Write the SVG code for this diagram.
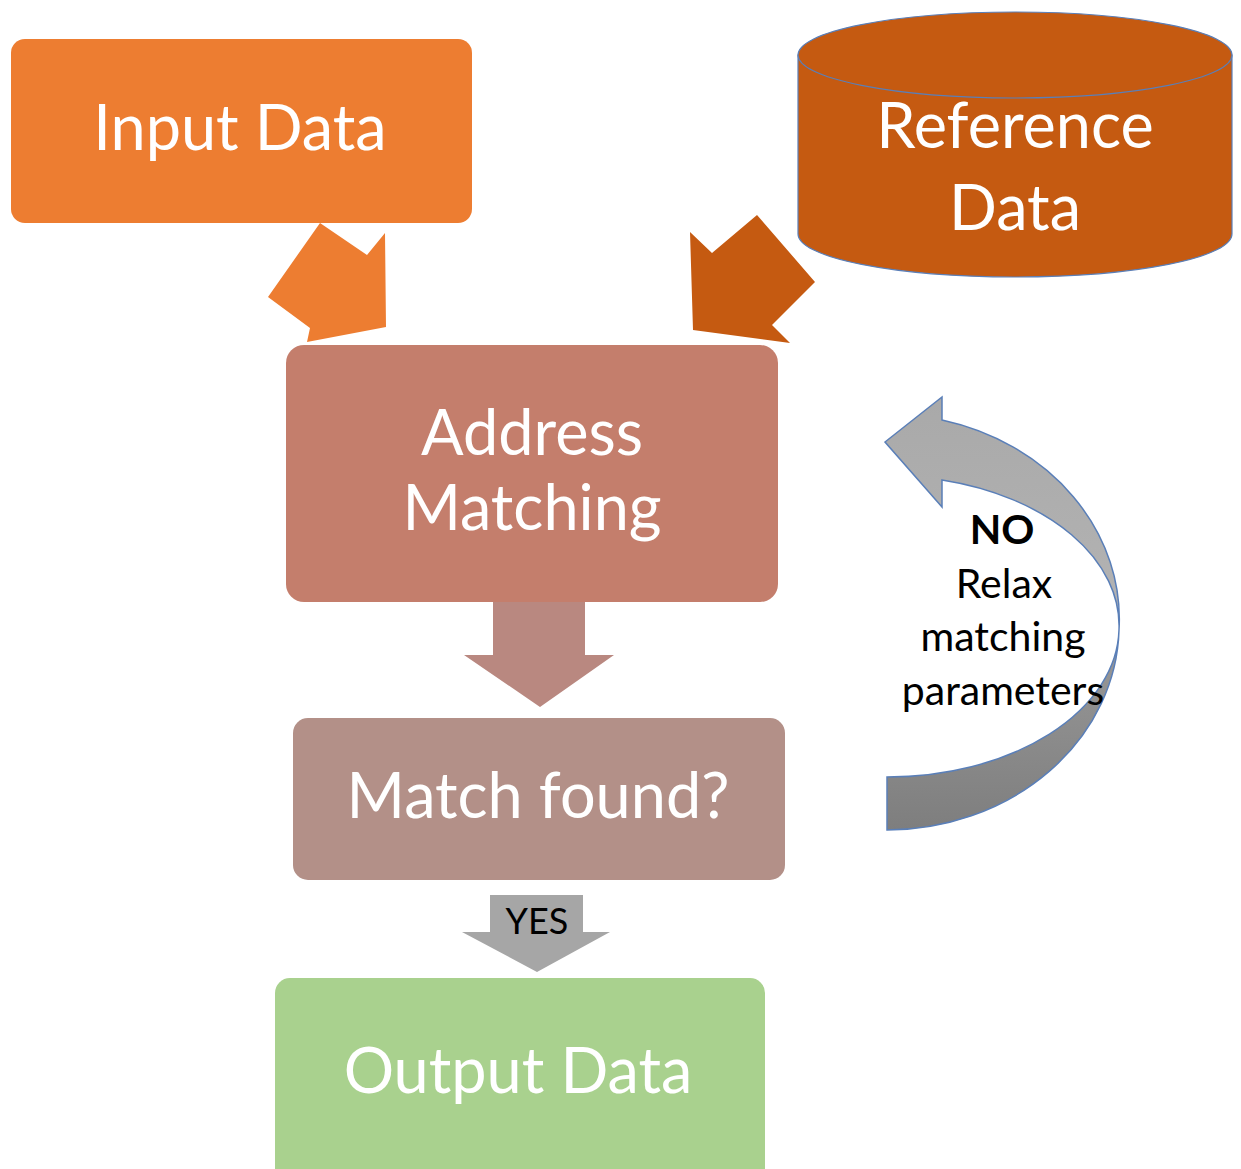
<svg xmlns="http://www.w3.org/2000/svg" width="1241" height="1169" viewBox="0 0 1241 1169">
<style>
.lbl{font-family:Lato,"Open Sans","Liberation Sans",sans-serif;fill:#ffffff;font-size:63px;text-anchor:middle}
.sm{font-family:Lato,"Open Sans","Liberation Sans",sans-serif;fill:#000000;font-size:41px;text-anchor:middle}
.cv{stroke:#5A7FB8;stroke-width:1.5}
</style>
<defs>
<linearGradient id="gUp" x1="0" y1="0" x2="0" y2="1">
<stop offset="0" stop-color="#A9A9A9"/><stop offset="1" stop-color="#B4B4B4"/>
</linearGradient>
<linearGradient id="gLo" x1="0" y1="0" x2="0" y2="1">
<stop offset="0" stop-color="#9A9A9A"/><stop offset="1" stop-color="#7E7E7E"/>
</linearGradient>
</defs>
<rect width="1241" height="1169" fill="#ffffff"/>

<g id="connectors">
<polygon id="arrow-input" points="320,223 367,255 385,233 386,327 307,342 310,328 268,297" fill="#ED7D31"/>
<polygon id="arrow-ref" points="757,215 815,282 772,325 790,343 693,330 690,232 712,253" fill="#C55A11"/>
<polygon id="arrow-match" points="493,602 585,602 585,655 614,655 540,707 464,655 493,655" fill="#B98880"/>
<g id="arrow-yes">
<polygon points="490,895 583,895 583,932 610,932 537,972 462,932 490,932" fill="#A6A6A6"/>
<text x="537" y="934" font-family="Lato,'Open Sans','Liberation Sans',sans-serif" font-size="36" text-anchor="middle" fill="#000000">YES</text>
</g>
<g id="arrow-no">
<path class="cv" fill="url(#gLo)" d="M 1119 630 A 233 205 0 0 1 887 830 L 887 777 A 232 150 0 0 0 1119 630 Z"/>
<path class="cv" fill="url(#gUp)" d="M 942 420 A 233 205 0 0 1 1119 630 A 232 150 0 0 0 942 480 L 942 507 L 885 442 L 942 397 Z"/>
<text class="sm" x="1002" y="544" font-weight="bold">NO</text>
<text class="sm" x="1004" y="598">Relax</text>
<text class="sm" x="1003" y="651">matching</text>
<text class="sm" x="1003" y="705">parameters</text>
</g>
</g>

<g id="input-data">
<rect x="11" y="39" width="461" height="184" rx="14" fill="#ED7D31"/>
<text class="lbl" x="240" y="150" font-size="65">Input Data</text>
</g>

<g id="reference-data">
<path d="M 798 55 L 798 234 A 217 43 0 0 0 1232 234 L 1232 55 Z" fill="#C55A11" stroke="#5A7FB8" stroke-width="1.2"/>
<ellipse cx="1015" cy="55" rx="217" ry="43" fill="#C55A11" stroke="#5A7FB8" stroke-width="1.2"/>
<text class="lbl" x="1015" y="148">Reference</text>
<text class="lbl" x="1015" y="230">Data</text>
</g>

<g id="address-matching">
<rect x="286" y="345" width="492" height="257" rx="18" fill="#C47E6C"/>
<text class="lbl" x="532" y="455">Address</text>
<text class="lbl" x="532" y="530">Matching</text>
</g>

<g id="match-found">
<rect x="293" y="718" width="492" height="162" rx="15" fill="#B39088"/>
<text class="lbl" x="538" y="818" font-size="65">Match found?</text>
</g>

<g id="output-data">
<rect x="275" y="978" width="490" height="205" rx="15" fill="#A9D18E"/>
<text class="lbl" x="518" y="1093" font-size="65">Output Data</text>
</g>
</svg>
